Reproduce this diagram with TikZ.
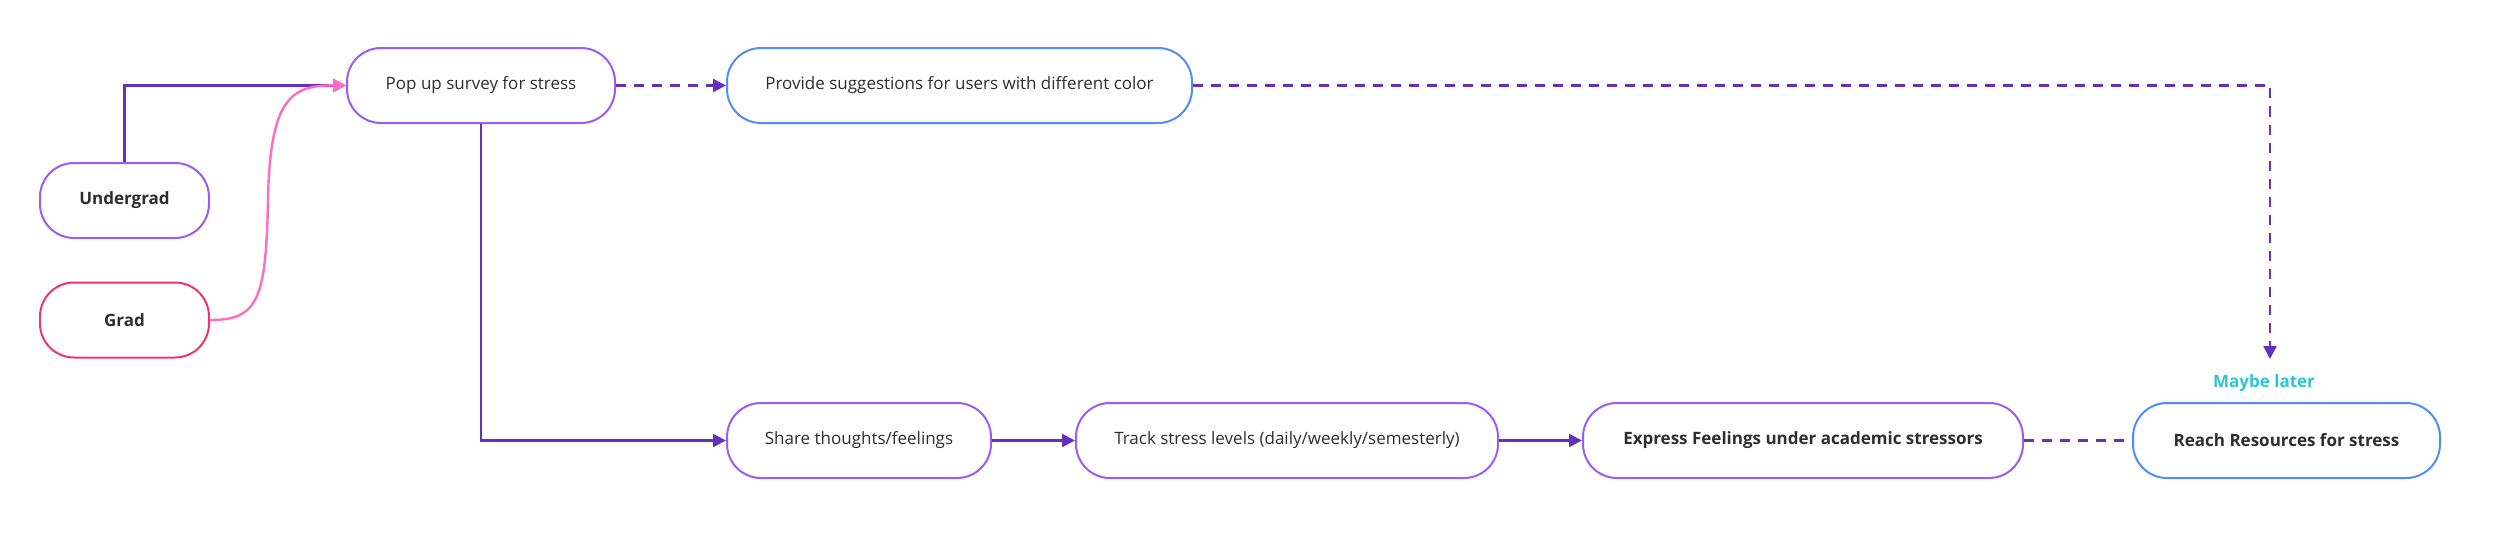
\documentclass[tikz,border=0pt]{standalone}
\usepackage{fontspec}
\setmainfont{Open Sans}
\usetikzlibrary{arrows.meta}
\definecolor{boxpurple}{HTML}{9A5CF5}
\definecolor{boxblue}{HTML}{4F8DF7}
\definecolor{boxred}{HTML}{F0356E}
\definecolor{linepurple}{HTML}{6530BE}
\definecolor{linepink}{HTML}{FF6CC4}
\definecolor{maybecyan}{HTML}{2BC6D6}
\definecolor{txt}{HTML}{2E2E2E}
\tikzset{
  pill/.style={draw, line width=1pt, fill=white, rounded corners=17pt, minimum height=37.5pt, text=txt, font=\fontsize{8.5}{10}\selectfont, inner sep=0pt, anchor=center},
  ppill/.style={pill, draw=boxpurple},
  bpill/.style={pill, draw=boxblue},
  rpill/.style={pill, draw=boxred},
  conn/.style={draw=linepurple, line width=1.2pt},
  tip/.style={-{Triangle[length=6.5pt,width=6.5pt]}},
  dsh/.style={dash pattern=on 5pt off 4pt},
}
\begin{document}
\begin{tikzpicture}[x=0.5pt,y=-0.5pt]
\useasboundingbox (0,0) rectangle (2500,546);
\node[ppill, minimum width=84.5pt] (ug) at (124.5,200.5) {\bfseries Undergrad};
\node[rpill, minimum width=84.5pt] (gr) at (124.5,320) {\bfseries Grad};
\node[ppill, minimum width=134pt] (pop) at (481,85.5) {Pop up survey for stress};
\node[bpill, minimum width=232.5pt] (prov) at (959.5,85.5) {Provide suggestions for users with different color};
\node[ppill, minimum width=132pt] (share) at (859,440.5) {Share thoughts/feelings};
\node[ppill, minimum width=211pt] (track) at (1287,440.5) {Track stress levels (daily/weekly/semesterly)};
\node[ppill, minimum width=220pt] (expr) at (1803,440.5) {\bfseries Express Feelings under academic stressors};
\node[bpill, minimum width=153.5pt] (reach) at (2286.5,440.5) {\bfseries Reach Resources for stress};
\node[text=maybecyan, font=\fontsize{8.5}{10}\selectfont\bfseries, inner sep=0pt] (ml) at (2264,383) {Maybe later};
\coordinate (mlend) at (2270,359);
\coordinate (gmid) at (268,200);
% connectors
\draw[conn, tip] (ug.north) |- (pop.west);
\draw[draw=linepink, line width=1.2pt, -{Triangle[length=6.5pt,width=6.5pt,fill=linepink]}] (gr.east) .. controls (258,320) and (266,300) .. (gmid) .. controls (270,100) and (290,85) .. (pop.west);
\draw[conn, tip] (pop.south) |- (share.west);
\draw[conn, tip] (share) -- (track);
\draw[conn, tip] (track) -- (expr);
\draw[conn, tip, dsh] (pop) -- (prov);
\draw[conn, dsh] (expr) -- (reach);
\draw[conn, tip, dsh] (prov.east) -| (mlend);
\end{tikzpicture}
\end{document}
